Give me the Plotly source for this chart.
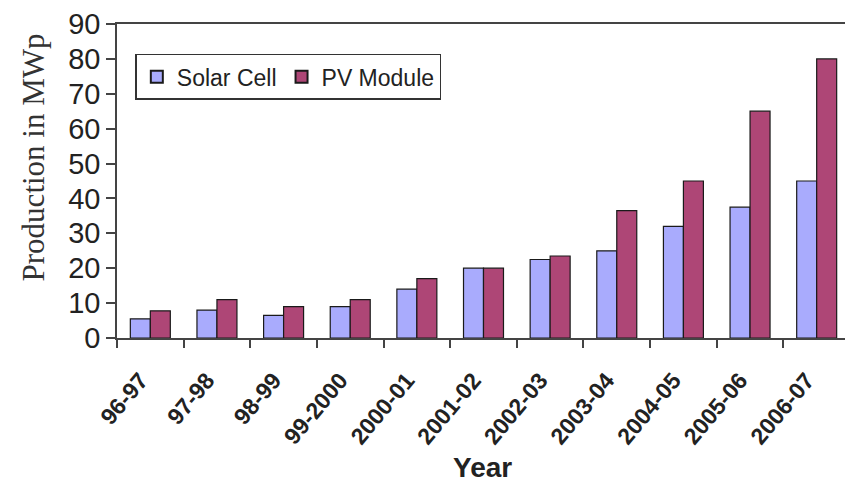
import plotly.graph_objects as go

years = ["96-97", "97-98", "98-99", "99-2000", "2000-01", "2001-02",
         "2002-03", "2003-04", "2004-05", "2005-06", "2006-07"]
solar_cell = [5.5, 8, 6.5, 9, 14, 20, 22.5, 25, 32, 37.5, 45]
pv_module = [7.8, 11, 9, 11, 17, 20, 23.5, 36.5, 45, 65, 80]
y_ticks = [0, 10, 20, 30, 40, 50, 60, 70, 80, 90]

fig = go.Figure()
fig.add_trace(go.Bar(x=years, y=solar_cell, name="Solar Cell",
                     marker=dict(color="#A9ABFD", line=dict(color="#1a1a1a", width=1.2))))
fig.add_trace(go.Bar(x=years, y=pv_module, name="PV Module",
                     marker=dict(color="#AE4676", line=dict(color="#1a1a1a", width=1.2))))

fig.update_layout(
    width=845, height=476,
    margin=dict(l=109, r=3, t=16, b=146),
    paper_bgcolor="white", plot_bgcolor="white",
    barmode="group", bargap=0.4, bargroupgap=0,
    showlegend=True,
    legend=dict(orientation="h", x=0.025, y=0.905, xanchor="left", yanchor="top",
                bordercolor="#333", borderwidth=1.5, bgcolor="white",
                font=dict(family="Liberation Sans, Arial", size=23, color="#222"),
                itemsizing="constant", traceorder="normal"),
    font=dict(family="Liberation Sans, Arial", color="#222"),
)
fig.update_xaxes(
    type="category", showline=True, linecolor="#444", linewidth=1.5, mirror=True,
    ticks="outside", tickson="boundaries", ticklen=8, tickcolor="#444", tickwidth=1.5,
    tickangle=-50, tickfont=dict(family="Liberation Sans, Arial", size=23, color="#222"),
    ticklabelstandoff=18, ticklabelshift=-10,
    showgrid=False, automargin=False,
    tickvals=years, ticktext=["<b>%s</b>" % y for y in years],
)
fig.update_yaxes(
    range=[0, 90], tickvals=y_ticks, showline=True, linecolor="#444", linewidth=1.5,
    mirror=True, ticks="outside", ticklen=9, tickcolor="#444", tickwidth=1.5,
    tickfont=dict(family="Liberation Sans, Arial", size=29, color="#222"),
    showgrid=False, zeroline=False, automargin=False,
)

fig.add_annotation(text="Production in MWp", xref="paper", yref="paper",
                   x=-0.1146, y=0.575, xanchor="center", yanchor="middle",
                   showarrow=False, textangle=-90,
                   font=dict(family="Liberation Serif, Times New Roman", size=31, color="#333"))
fig.add_annotation(text="<b>Year</b>", xref="paper", yref="paper",
                   x=0.499, y=-0.414, xanchor="center", yanchor="middle",
                   showarrow=False,
                   font=dict(family="Liberation Sans, Arial", size=28, color="#222"))

fig.write_html("out.html")
